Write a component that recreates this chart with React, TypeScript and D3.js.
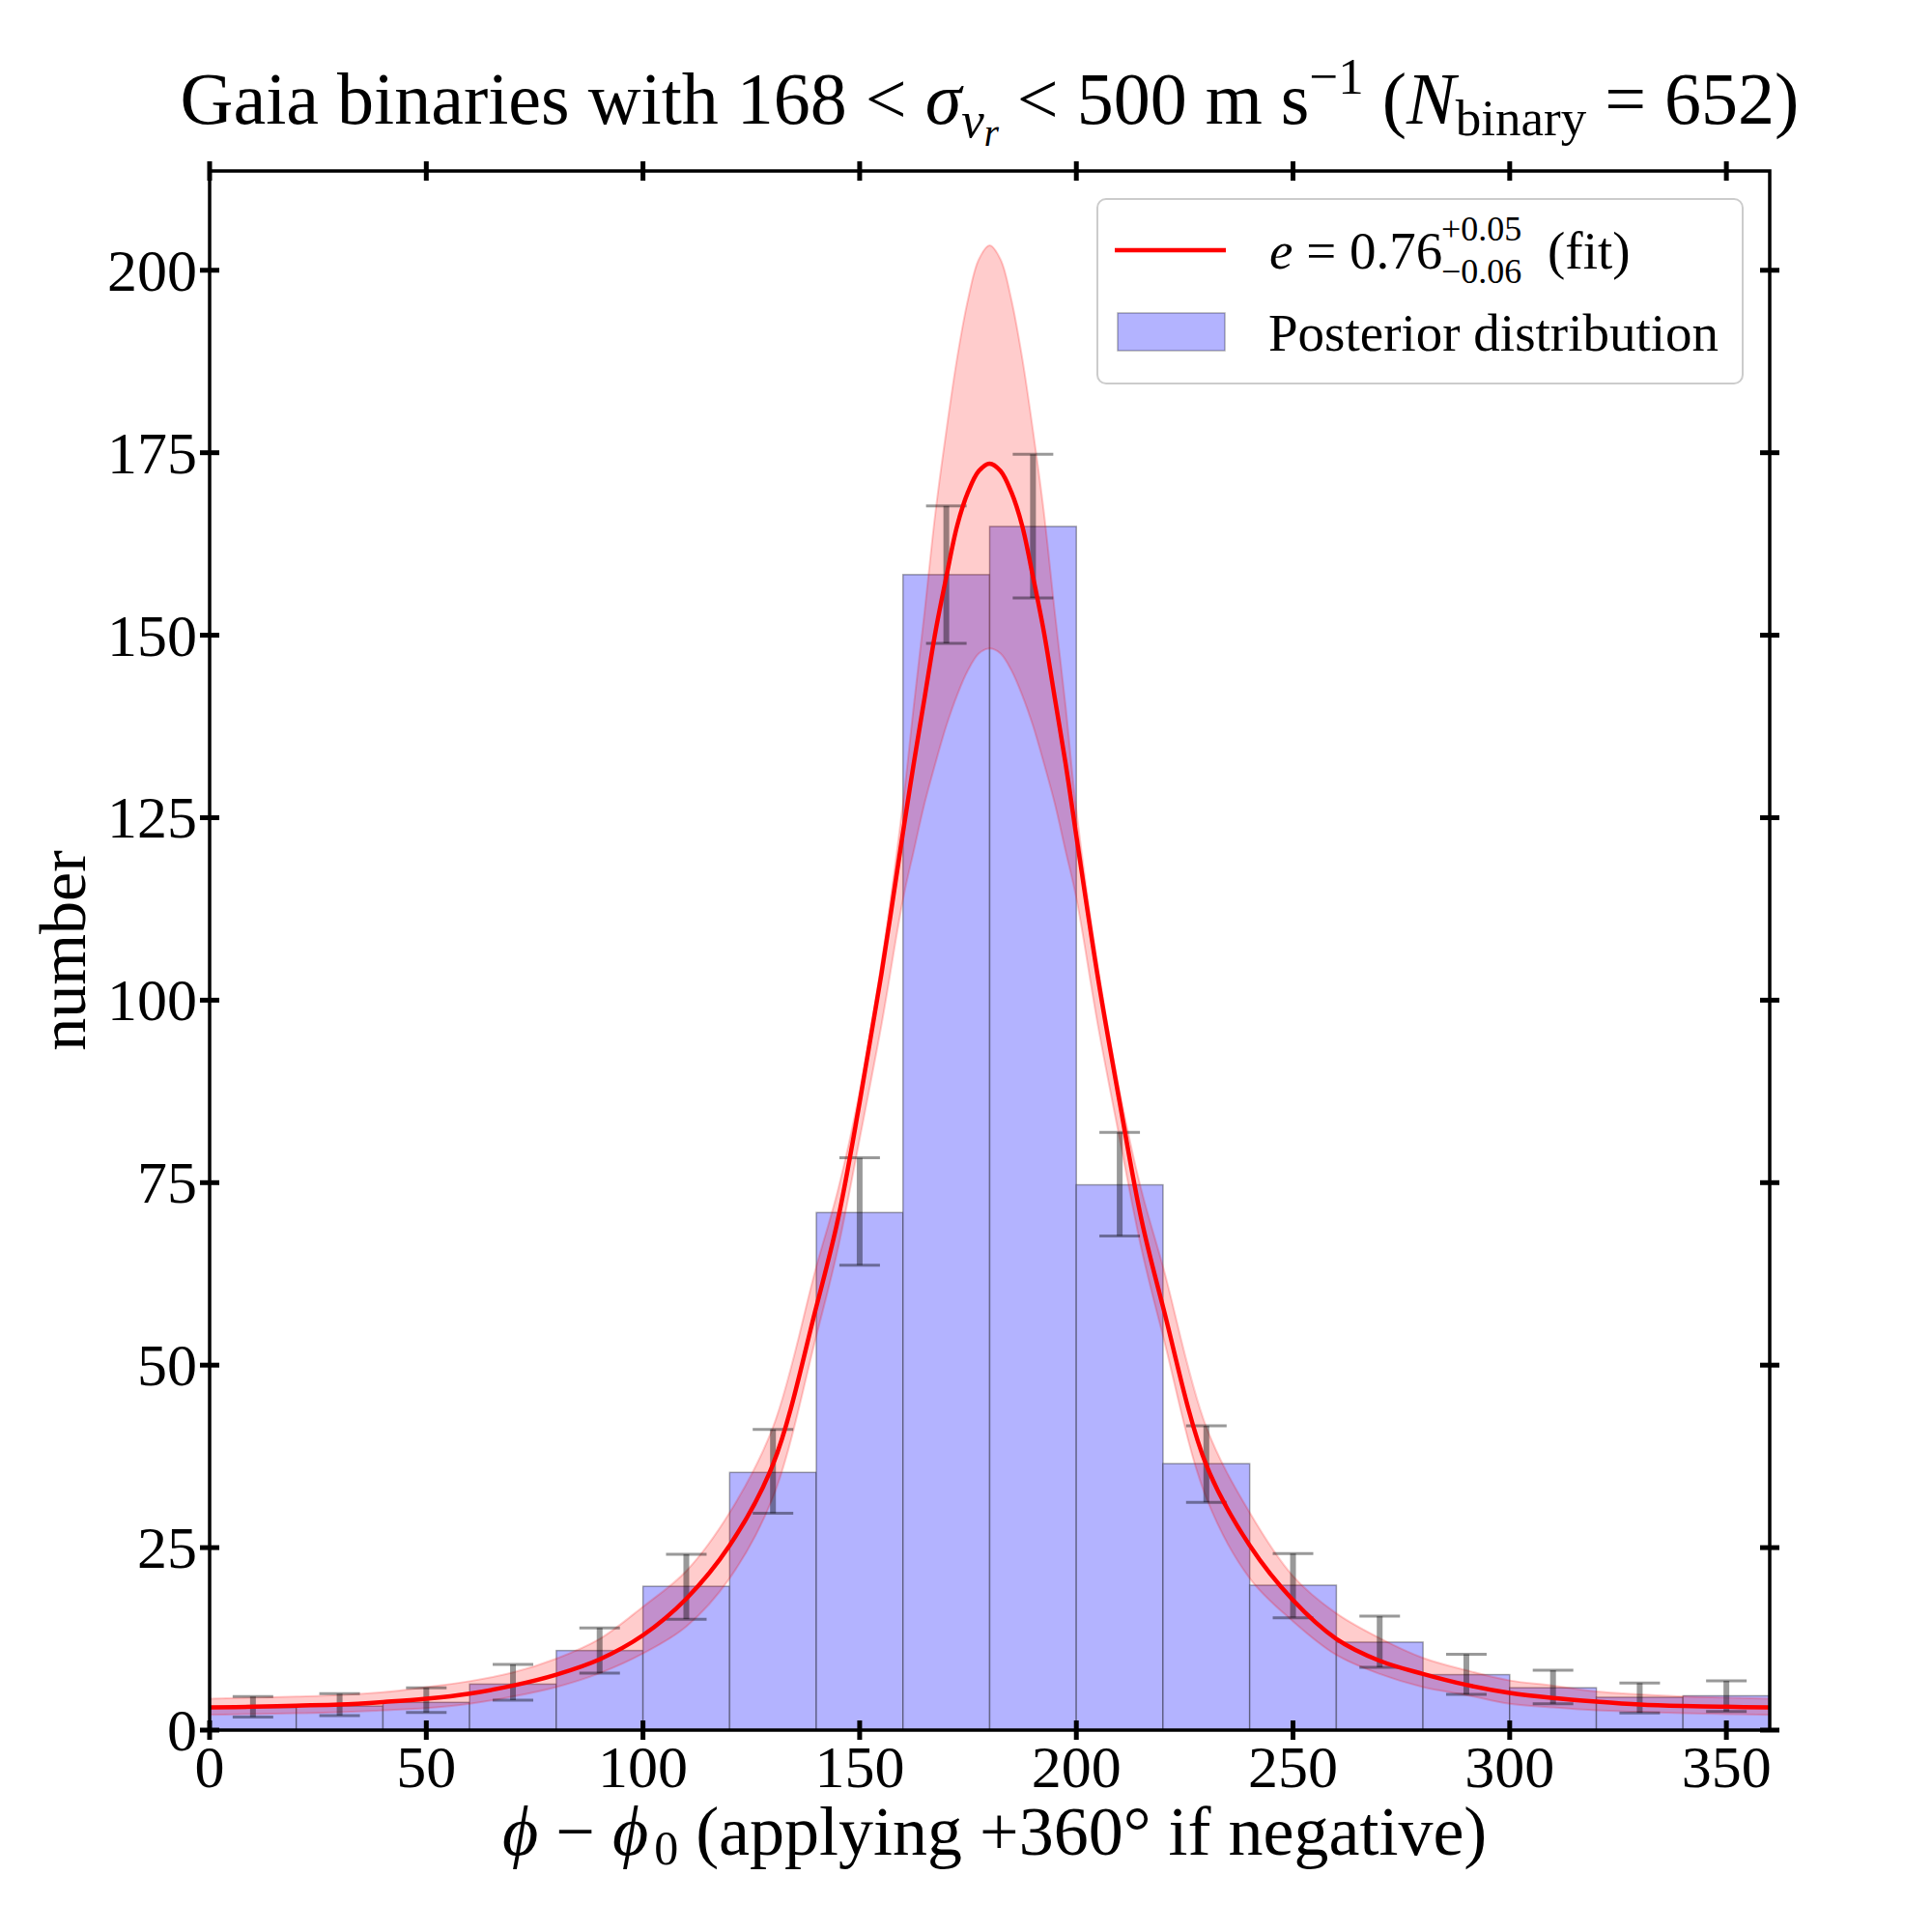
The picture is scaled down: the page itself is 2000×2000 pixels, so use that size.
import * as d3 from 'd3';

// histogram: 18 bins of 20 degrees
const binStarts = [0, 20, 40, 60, 80, 100, 120, 140, 160, 180, 200, 220, 240, 260, 280, 300, 320, 340];
const binWidth = 20;
const binCounts = [3.1, 3.3, 3.8, 6.3, 10.9, 19.7, 35.3, 70.9, 158.3, 164.9, 74.7, 36.5, 19.85, 12.05, 7.6, 5.8, 4.5, 4.7];

// error bars at bin centres
const errCenters = [10, 30, 50, 70, 90, 110, 130, 150, 170, 190, 210, 230, 250, 270, 290, 310, 330, 350];
const errHigh = [4.6, 5.0, 5.8, 9.0, 14.0, 24.1, 41.2, 78.4, 167.7, 174.8, 81.9, 41.7, 24.2, 15.6, 10.4, 8.2, 6.45, 6.75];
const errLow = [1.8, 2.0, 2.4, 4.1, 7.8, 15.2, 29.7, 63.7, 148.9, 155.1, 67.7, 31.2, 15.4, 8.6, 4.9, 3.6, 2.35, 2.55];

// fit curve and its band
const phiGrid = [
  0, 10, 20, 30, 40, 50, 60, 70, 80, 90, 100, 110, 120, 130, 140, 145, 150, 155, 160, 162.5, 165, 167.5, 170, 172.5, 175, 177.5,
  180,
  182.5, 185, 187.5, 190, 192.5, 195, 197.5, 200, 205, 210, 215, 220, 230, 240, 250, 260, 270, 280, 290, 300, 310, 320, 330, 340, 350, 360,
];
const fitCurve = [
  3.1, 3.2, 3.35, 3.5, 3.85, 4.3, 5.0, 6.1, 7.6, 9.7, 13.0, 18.0, 25.3, 36.4, 58.0, 70.0, 86.0, 103.5, 123.0, 132.5, 141.5, 150.5, 158.0, 165.0, 169.6, 172.5,
  173.5,
  172.5, 169.6, 165.0, 158.0, 150.5, 141.5, 132.5, 122.5, 103.0, 86.0, 70.0, 58.0, 36.3, 25.3, 17.8, 12.5, 9.5, 7.7, 6.2, 5.1, 4.4, 3.9, 3.5, 3.3, 3.2, 3.1,
];
const bandUpper = [
  4.3, 4.45, 4.6, 4.8, 5.2, 5.9, 6.7, 7.9, 9.8, 12.5, 16.9, 21.8, 29.8, 41.5, 63.5, 74.0, 87.5, 105.0, 127.0, 140.4, 153.3, 166.9, 178.0, 188.0, 196.0, 201.5,
  203.4,
  201.5, 196.0, 188.0, 178.0, 166.9, 153.3, 140.4, 126.0, 104.5, 87.5, 74.0, 63.5, 41.5, 29.8, 21.1, 16.0, 12.6, 9.9, 8.2, 6.8, 6.1, 5.3, 4.9, 4.6, 4.45, 4.3,
];
const bandLower = [
  2.1, 2.2, 2.3, 2.45, 2.7, 3.0, 3.6, 4.6, 5.9, 7.8, 10.5, 14.2, 20.8, 31.9, 54.0, 66.0, 81.0, 96.5, 113.8, 120.5, 127.0, 132.5, 137.6, 141.8, 145.2, 147.5,
  148.2,
  147.5, 145.2, 141.8, 137.6, 132.5, 127.0, 120.5, 114.0, 96.5, 81.0, 66.0, 54.0, 31.8, 20.8, 14.9, 10.3, 7.7, 5.9, 4.8, 3.6, 3.1, 2.7, 2.5, 2.3, 2.2, 2.1,
];

const xTicks = [0, 50, 100, 150, 200, 250, 300, 350];
const yTicks = [0, 25, 50, 75, 100, 125, 150, 175, 200];

const FONT = "'Liberation Serif', 'DejaVu Serif', serif";

export default function App() {
  const W = 2000;
  const H = 2000;
  const plot = { left: 217, right: 1832, top: 177, bottom: 1791 };

  const x = d3.scaleLinear().domain([0, 360]).range([plot.left, plot.right]);
  const y = d3.scaleLinear().domain([0, 213.6]).range([plot.bottom, plot.top]);

  const pts = phiGrid.map((p, i) => ({ p, fit: fitCurve[i], hi: bandUpper[i], lo: bandLower[i] }));

  const smooth = d3.curveCatmullRom.alpha(0.5);

  const line = d3
    .line<{ p: number; fit: number }>()
    .x((d) => x(d.p))
    .y((d) => y(d.fit))
    .curve(smooth);

  const area = d3
    .area<{ p: number; hi: number; lo: number }>()
    .x((d) => x(d.p))
    .y0((d) => y(d.lo))
    .y1((d) => y(d.hi))
    .curve(smooth);

  const tickLen = 10;
  const tickFont = 62;
  const capHalf = 21;

  // legend box
  const lg = { x: 1136, y: 206, w: 668, h: 191 };

  return (
    <svg
      width={W}
      height={H}
      viewBox={`0 0 ${W} ${H}`}
      style={{ position: 'absolute', left: 0, top: 0, background: '#fff' }}
      fontFamily={FONT}
    >
      <rect x={0} y={0} width={W} height={H} fill="#fff" />

      <defs>
        <clipPath id="plotClip">
          <rect x={plot.left} y={plot.top} width={plot.right - plot.left} height={plot.bottom - plot.top} />
        </clipPath>
      </defs>

      <g clipPath="url(#plotClip)">
        {/* histogram bars */}
        {binStarts.map((b, i) => (
          <rect
            key={`bar-${b}`}
            x={x(b)}
            y={y(binCounts[i])}
            width={x(b + binWidth) - x(b)}
            height={y(0) - y(binCounts[i])}
            fill="rgb(179,179,255)"
            stroke="rgba(0,0,0,0.35)"
            strokeWidth={1.5}
          />
        ))}

        {/* fit band */}
        <path
          d={area(pts) ?? ''}
          fill="rgba(255,0,0,0.2)"
          stroke="rgba(255,0,0,0.2)"
          strokeWidth={2}
        />

        {/* error bars */}
        {errCenters.map((c, i) => (
          <g key={`err-${c}`} stroke="rgba(0,0,0,0.4)">
            <line x1={x(c)} x2={x(c)} y1={y(errHigh[i])} y2={y(errLow[i])} strokeWidth={6} />
            <line x1={x(c) - capHalf} x2={x(c) + capHalf} y1={y(errHigh[i])} y2={y(errHigh[i])} strokeWidth={3} />
            <line x1={x(c) - capHalf} x2={x(c) + capHalf} y1={y(errLow[i])} y2={y(errLow[i])} strokeWidth={3} />
          </g>
        ))}

        {/* fit curve */}
        <path d={line(pts) ?? ''} fill="none" stroke="#ff0000" strokeWidth={4.5} />
      </g>

      {/* frame */}
      <rect
        x={plot.left}
        y={plot.top}
        width={plot.right - plot.left}
        height={plot.bottom - plot.top}
        fill="none"
        stroke="#000"
        strokeWidth={3.5}
      />

      {/* x ticks, bottom and top */}
      {xTicks.map((t) => (
        <g key={`xt-${t}`} stroke="#000" strokeWidth={5}>
          <line x1={x(t)} x2={x(t)} y1={plot.bottom - tickLen} y2={plot.bottom + tickLen} />
          <line x1={x(t)} x2={x(t)} y1={plot.top - tickLen} y2={plot.top + tickLen} />
        </g>
      ))}
      {xTicks.map((t) => (
        <text key={`xl-${t}`} x={x(t)} y={1850} fontSize={tickFont} textAnchor="middle" fill="#000">
          {t}
        </text>
      ))}

      {/* y ticks, left and right */}
      {yTicks.map((t) => (
        <g key={`yt-${t}`} stroke="#000" strokeWidth={5}>
          <line x1={plot.left - tickLen} x2={plot.left + tickLen} y1={y(t)} y2={y(t)} />
          <line x1={plot.right - tickLen} x2={plot.right + tickLen} y1={y(t)} y2={y(t)} />
        </g>
      ))}
      {yTicks.map((t) => (
        <text key={`yl-${t}`} x={204} y={y(t) + 21} fontSize={tickFont} textAnchor="end" fill="#000">
          {t}
        </text>
      ))}

      {/* title */}
      <text x={(plot.left + plot.right) / 2} y={128} fontSize={76} textAnchor="middle" fill="#000">
        <tspan>Gaia binaries with 168 &lt; </tspan>
        <tspan fontStyle="italic">σ</tspan>
        <tspan fontStyle="italic" fontSize={53} dy={14}>v</tspan>
        <tspan fontStyle="italic" fontSize={39} dy={9}>r</tspan>
        <tspan dy={-23}> &lt; 500 m s</tspan>
        <tspan fontSize={53} dy={-31}>−1</tspan>
        <tspan dy={31}> (</tspan>
        <tspan fontStyle="italic">N</tspan>
        <tspan fontSize={53} dy={12}>binary</tspan>
        <tspan dy={-12}> = 652)</tspan>
      </text>

      {/* x label */}
      <text x={520} y={1920} fontSize={72} textAnchor="start" fill="#000">
        <tspan fontStyle="italic">ϕ</tspan>
        <tspan> − </tspan>
        <tspan fontStyle="italic">ϕ</tspan>
        <tspan fontSize={50} dx={6} dy={10}>0</tspan>
        <tspan dy={-10}> (applying +360° if negative)</tspan>
      </text>

      {/* y label */}
      <text
        transform={`translate(88,${(plot.top + plot.bottom) / 2}) rotate(-90)`}
        fontSize={68}
        textAnchor="middle"
        fill="#000"
      >
        number
      </text>

      {/* legend */}
      <g>
        <rect
          x={lg.x}
          y={lg.y}
          width={lg.w}
          height={lg.h}
          rx={9}
          fill="rgba(255,255,255,0.8)"
          stroke="#cccccc"
          strokeWidth={2}
        />
        <line x1={1154} x2={1269} y1={259} y2={259} stroke="#ff0000" strokeWidth={4.5} />
        <text x={1314} y={278} fontSize={55} fill="#000">
          <tspan fontStyle="italic">e</tspan>
          <tspan> = 0.76</tspan>
        </text>
        <text x={1492} y={249} fontSize={36} fill="#000">+0.05</text>
        <text x={1492} y={293} fontSize={36} fill="#000">−0.06</text>
        <text x={1602} y={278} fontSize={55} fill="#000">(fit)</text>

        <rect
          x={1157}
          y={324}
          width={111}
          height={39}
          fill="rgb(179,179,255)"
          stroke="rgba(0,0,0,0.3)"
          strokeWidth={1.5}
        />
        <text x={1313} y={363} fontSize={55} fill="#000">Posterior distribution</text>
      </g>
    </svg>
  );
}
